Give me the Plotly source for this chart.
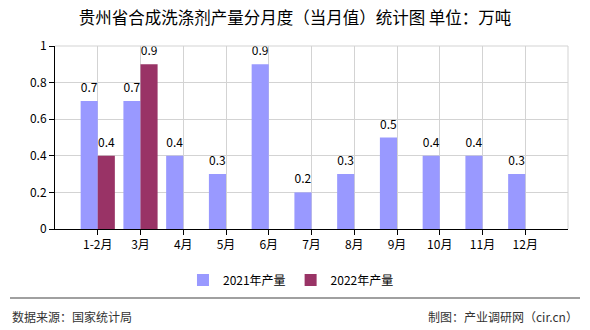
import plotly.graph_objects as go

categories = ["1-2月", "3月", "4月", "5月", "6月", "7月", "8月", "9月", "10月", "11月", "12月"]
values_2021 = [0.7, 0.7, 0.4, 0.3, 0.9, 0.2, 0.3, 0.5, 0.4, 0.4, 0.3]
values_2022 = [0.4, 0.9]
y_ticks = [0, 0.2, 0.4, 0.6, 0.8, 1]
y_ticktext = ["0", "0.2", "0.4", "0.6", "0.8", "1"]

pos_2021 = list(range(1, len(values_2021) + 1))
pos_2022 = list(range(1, len(values_2022) + 1))

label_font = dict(family="Noto Sans CJK SC, DejaVu Sans", size=12, color="#000000")

fig = go.Figure()
fig.add_trace(go.Bar(
    x=pos_2021, y=values_2021, name="2021年产量",
    width=0.4, offset=-0.4, marker=dict(color="#9999FF", line=dict(width=0)),
))
fig.add_trace(go.Bar(
    x=pos_2022, y=values_2022, name="2022年产量",
    width=0.4, offset=0, marker=dict(color="#993366", line=dict(width=0)),
))
# value labels above bars
fig.add_trace(go.Scatter(
    x=[p - 0.2 for p in pos_2021], y=values_2021, mode="markers+text",
    marker=dict(size=8, opacity=0), text=[f"{v:g}" for v in values_2021],
    textposition="top center", textfont=label_font, showlegend=False,
    hoverinfo="skip", cliponaxis=False,
))
fig.add_trace(go.Scatter(
    x=[p + 0.2 for p in pos_2022], y=values_2022, mode="markers+text",
    marker=dict(size=8, opacity=0), text=[f"{v:g}" for v in values_2022],
    textposition="top center", textfont=label_font, showlegend=False,
    hoverinfo="skip", cliponaxis=False,
))

fig.update_layout(
    width=590, height=330,
    margin=dict(l=55, r=22, t=46, b=101),
    paper_bgcolor="white", plot_bgcolor="white",
    barmode="overlay",
    font=dict(family="Noto Sans CJK SC, DejaVu Sans", size=12, color="#000"),
    title=dict(text="贵州省合成洗涤剂产量分月度（当月值）统计图 单位：万吨",
               x=0.5, xanchor="center", y=0.945, yanchor="middle",
               font=dict(size=16.5, color="#000")),
    showlegend=True,
    legend=dict(orientation="h", x=0.46, xanchor="center", y=-0.2, yanchor="top",
                font=dict(size=12, color="#000"), itemwidth=30,
                traceorder="normal"),
    xaxis=dict(range=[0, 12], tickmode="array", tickvals=pos_2021, ticktext=categories,
               showgrid=True, gridcolor="#D3D3D3", gridwidth=1,
               showline=True, linecolor="#000", linewidth=1,
               ticks="outside", ticklen=5, tickcolor="#000",
               mirror=False, zeroline=False, fixedrange=True),
    yaxis=dict(range=[0, 1], tickmode="array", tickvals=y_ticks, ticktext=y_ticktext,
               showgrid=True, gridcolor="#D3D3D3", gridwidth=1,
               showline=True, linecolor="#000", linewidth=1,
               ticks="outside", ticklen=5, tickcolor="#000",
               zeroline=False, fixedrange=True),
    shapes=[
        dict(type="line", xref="paper", yref="paper", x0=1, x1=1, y0=0, y1=1,
             line=dict(color="#D3D3D3", width=1)),
        dict(type="line", xref="paper", yref="paper", x0=0, x1=1, y0=1, y1=1,
             line=dict(color="#D3D3D3", width=1)),
        dict(type="line", xref="paper", yref="paper",
             x0=-45/513, x1=(580-55)/513, y0=-(298-229)/183, y1=-(298-229)/183,
             line=dict(color="#808080", width=1.5)),
    ],
    annotations=[
        dict(text="数据来源：国家统计局", xref="paper", yref="paper",
             x=-45/513, xanchor="left", y=-(316-229)/183, yanchor="middle",
             showarrow=False, font=dict(size=12, color="#333")),
        dict(text="制图：产业调研网（cir.cn）", xref="paper", yref="paper",
             x=(580-55)/513, xanchor="right", y=-(316-229)/183, yanchor="middle",
             showarrow=False, font=dict(size=12, color="#333")),
    ],
)

fig.write_html("out.html")
